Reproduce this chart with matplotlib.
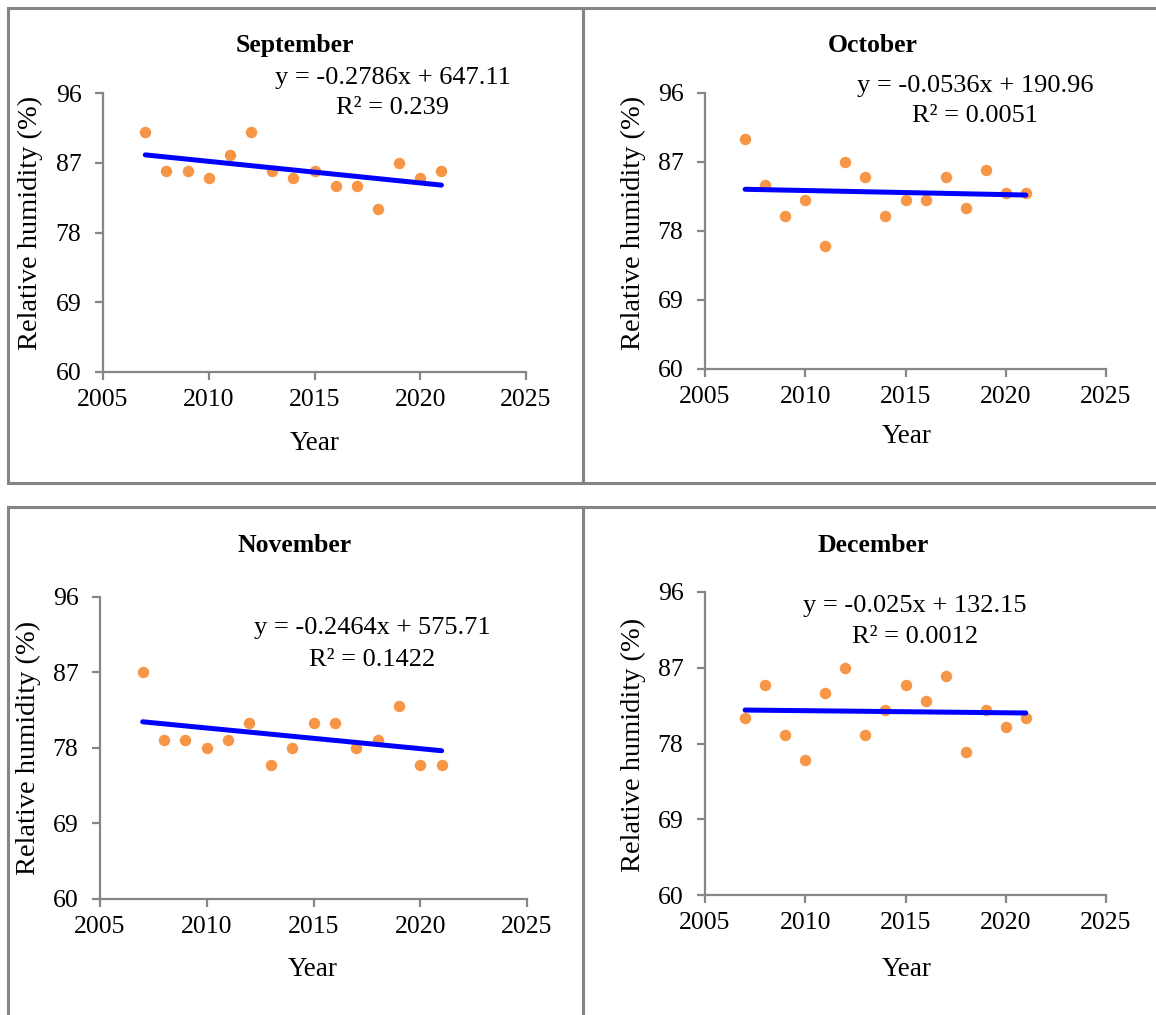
import numpy as np
import matplotlib
matplotlib.use("Agg")
import matplotlib.pyplot as plt
from matplotlib.patches import Rectangle

plt.rcParams['font.family'] = ['Liberation Serif', 'DejaVu Serif']

years = np.arange(2007, 2022)
sep = [91, 86, 86, 85, 88, 91, 86, 85, 86, 84, 84, 81, 87, 85, 86]
octo = [90, 84, 80, 82, 76, 87, 85, 80, 82, 82, 85, 81, 86, 83, 83]
nov = [87, 79, 79, 78, 79, 81, 76, 78, 81, 81, 78, 79, 83, 76, 76]
dec = [81, 85, 79, 76, 84, 87, 79, 82, 85, 83, 86, 77, 82, 80, 81]

months = ['September', 'October', 'November', 'December']
series = [sep, octo, nov, dec]
equations = ['y = -0.2786x + 647.11', 'y = -0.0536x + 190.96',
             'y = -0.2464x + 575.71', 'y = -0.025x + 132.15']
r2_texts = ['R\u00b2 = 0.239', 'R\u00b2 = 0.0051',
            'R\u00b2 = 0.1422', 'R\u00b2 = 0.0012']
yticks = [60, 69, 78, 87, 96]
xticks = [2005, 2010, 2015, 2020, 2025]

W, H = 1156, 1015
fig = plt.figure(figsize=(W / 100, H / 100), dpi=100)

# pixel layout per panel: axes box, title, equation, r2, ylabel, xlabel
axes_px = [(103, 526, 93, 372), (705, 1106, 93, 369),
           (100, 527, 597, 899), (705, 1106, 592, 895)]
title_px = [(295, 45), (873, 45), (295, 545), (873, 545)]
eq_px = [(393, 78), (975, 86), (372, 628), (915, 606)]
r2_px = [(393, 108), (975, 116), (372, 660), (915, 637)]
ylab_px = [(30, 223), (633, 223), (28, 748), (633, 745)]
xlab_px = [(315, 443), (907, 437), (313, 969), (907, 969)]
box_px = [(8, 8, 583, 483), (583, 8, 1160, 483),
          (8, 507, 583, 1020), (583, 507, 1160, 1020)]

gray = '#868686'


def fx(x):
    return x / W


def fy(y):
    return 1 - y / H


for (bx0, by0, bx1, by1) in box_px:
    fig.patches.append(Rectangle((fx(bx0), fy(by1)), fx(bx1 - bx0), (by1 - by0) / H,
                                 transform=fig.transFigure, fill=False,
                                 edgecolor='#858585', linewidth=2.2))

for i in range(4):
    x0, x1, yt, yb = axes_px[i]
    ax = fig.add_axes([fx(x0), fy(yb), (x1 - x0) / W, (yb - yt) / H])
    y = np.array(series[i])
    ax.scatter(years, y, s=68, color='#f79646', zorder=2, linewidths=0)
    m, c = np.polyfit(years, y, 1)
    ax.plot(years, m * years + c, color='#0000ff', linewidth=3.6, zorder=3,
            solid_capstyle='round')
    ax.set_xlim(2005, 2025)
    ax.set_ylim(60, 96)
    ax.set_xticks(xticks)
    ax.set_yticks(yticks)
    for s in ['top', 'right']:
        ax.spines[s].set_visible(False)
    for s in ['left', 'bottom']:
        ax.spines[s].set_color(gray)
        ax.spines[s].set_linewidth(1.6)
    ax.tick_params(direction='out', length=5.5, width=1.6, color=gray,
                   labelsize=18.5)
    ax.tick_params(axis='y', pad=10)
    ax.tick_params(axis='x', pad=6.5)
    ax.patch.set_alpha(0)

    fig.text(fx(title_px[i][0]), fy(title_px[i][1]), months[i], fontsize=18.5,
             fontweight='bold', ha='center', va='center')
    fig.text(fx(eq_px[i][0]), fy(eq_px[i][1]), equations[i], fontsize=19,
             ha='center', va='center')
    fig.text(fx(r2_px[i][0]), fy(r2_px[i][1]), r2_texts[i], fontsize=19,
             ha='center', va='center')
    fig.text(fx(ylab_px[i][0]), fy(ylab_px[i][1]), 'Relative humidity (%)',
             fontsize=20.5, rotation=90, ha='center', va='center')
    fig.text(fx(xlab_px[i][0]), fy(xlab_px[i][1]), 'Year', fontsize=19.5,
             ha='center', va='center')

fig.savefig('out.png', dpi=100)
